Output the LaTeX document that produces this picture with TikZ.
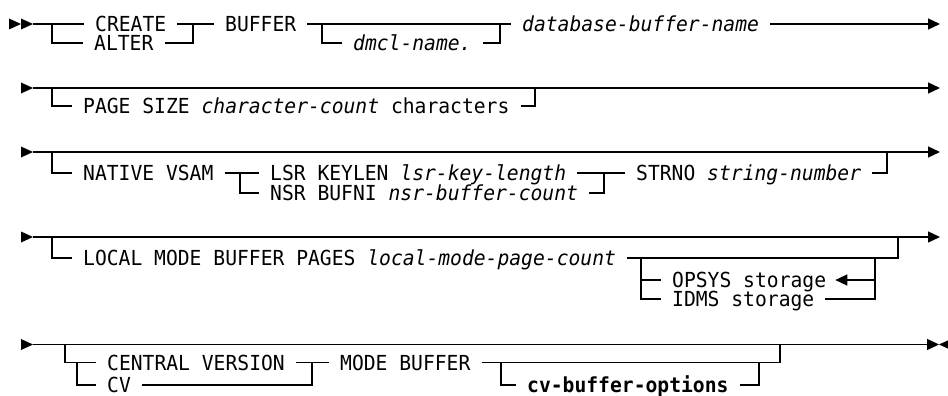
\documentclass[tikz,border=0pt]{standalone}
\usepackage{fontspec}
\newfontfamily\railfont[FakeStretch=0.95]{DejaVu Sans Mono}
\usetikzlibrary{arrows.meta}

\begin{document}
\begin{tikzpicture}[x=1pt,y=-1pt,
  rail/.style={line width=1.4pt},
  endtip/.style={-{Triangle[length=12pt,width=11pt]}},
  kw/.style={anchor=west, inner xsep=11pt, inner ysep=0pt,
    text height=15pt, text depth=0pt,
    font=\railfont\fontsize{20.7}{21}\selectfont},
]
\useasboundingbox (0,0) rectangle (948,396);

% ---------- statement start: CREATE / ALTER BUFFER ----------
\fill (9,18.5) -- (21,24) -- (9,29.5) -- cycle;
\fill (21,18.5) -- (33,24) -- (21,29.5) -- cycle;
\coordinate (r1s) at (33,24);
\coordinate (j1a) at (52,24);
\coordinate (j1b) at (193,24);
\coordinate (j1c) at (322,24);
\coordinate (j1d) at (500,24);
\coordinate (e1)  at (940,24);
\node[kw] (create) at (84,24)  {CREATE};
\node[kw] (alter)  at (83,43)  {ALTER};
\node[kw] (buffer) at (214,24) {BUFFER};
\node[kw] (dmcl)   at (342,43) {\textit{dmcl-name.}};
\node[kw] (dbname) at (511,24) {\textit{database-buffer-name}};
\draw[rail] (r1s) -- (create.west);
\draw[rail] (j1a) |- (alter.west);
\draw[rail] (create.east) -- (buffer.west);
\draw[rail] (alter.east) -| (j1b);
\draw[rail] (buffer.east) -- (dbname.west);
\draw[rail] (j1c) |- (dmcl.west);
\draw[rail] (dmcl.east) -| (j1d);
\draw[rail,endtip] (dbname.east) -- (e1);

% ---------- PAGE SIZE ----------
\fill (21,82.5) -- (33,88) -- (21,93.5) -- cycle;
\coordinate (r2s) at (33,88);
\coordinate (j2a) at (52,88);
\coordinate (j2b) at (535,88);
\coordinate (e2)  at (940,88);
\node[kw] (pagesize) at (72,106) {PAGE SIZE \textit{character-count} characters};
\draw[rail,endtip] (r2s) -- (e2);
\draw[rail] (j2a) |- (pagesize.west);
\draw[rail] (pagesize.east) -| (j2b);

% ---------- NATIVE VSAM ----------
\fill (21,146.5) -- (33,152) -- (21,157.5) -- cycle;
\coordinate (r3s) at (33,152);
\coordinate (j3a) at (52,152);
\coordinate (j3b) at (240,173);
\coordinate (j3c) at (604,173);
\coordinate (j3d) at (887,152);
\coordinate (e3)  at (940,152);
\node[kw] (native) at (72,173)  {NATIVE VSAM};
\node[kw] (lsr)    at (259,173) {LSR KEYLEN \textit{lsr-key-length}};
\node[kw] (nsr)    at (259,193) {NSR BUFNI \textit{nsr-buffer-count}};
\node[kw] (strno)  at (625,173) {STRNO \textit{string-number}};
\draw[rail,endtip] (r3s) -- (e3);
\draw[rail] (j3a) |- (native.west);
\draw[rail] (native.east) -- (lsr.west);
\draw[rail] (j3b) |- (nsr.west);
\draw[rail] (lsr.east) -- (strno.west);
\draw[rail] (nsr.east) -| (j3c);
\draw[rail] (strno.east) -| (j3d);

% ---------- LOCAL MODE BUFFER PAGES ----------
\fill (21,231.5) -- (33,237) -- (21,242.5) -- cycle;
\coordinate (r4s) at (33,237);
\coordinate (j4a) at (52,237);
\coordinate (j4b) at (641,258);
\coordinate (j4c) at (875,258);
\coordinate (j4d) at (898,237);
\coordinate (j4e) at (875,280);
\coordinate (j4f) at (641,280);
\coordinate (e4)  at (940,237);
\node[kw] (local) at (72,258)  {LOCAL MODE BUFFER PAGES \textit{local-mode-page-count}};
\node[kw] (opsys) at (661,280) {OPSYS storage};
\node[kw] (idms)  at (661,299) {IDMS storage};
\draw[rail,endtip] (r4s) -- (e4);
\draw[rail] (j4a) |- (local.west);
\draw[rail] (local.east) -- (j4c) -| (j4d);
\draw[rail] (j4b) |- (idms.west);
\draw[rail] (j4f) -- (opsys.west);
\draw[rail] (idms.east) -| (j4c);
\draw[rail,endtip,shorten >=-2pt] (j4e) -- (opsys.east);

% ---------- CENTRAL VERSION / CV MODE BUFFER ----------
\fill (21,339) -- (33,344.5) -- (21,350) -- cycle;
\fill (951,339) -- (939,344.5) -- (951,350) -- cycle;
\coordinate (r5s) at (33,344.5);
\coordinate (j5a) at (65,344.5);
\coordinate (j5b) at (77,362.5);
\coordinate (j5c) at (312,362.5);
\coordinate (j5d) at (501,362.5);
\coordinate (j5e) at (759,362.5);
\coordinate (j5f) at (780,344.5);
\coordinate (e5)  at (939,344.5);
\node[kw] (central) at (96,362.5)  {CENTRAL VERSION};
\node[kw] (cv)      at (96,385)    {CV};
\node[kw] (modebuf) at (329,362.5) {MODE BUFFER};
\node[kw] (cvopt)   at (516,385)   {\textbf{cv-buffer-options}};
\draw[rail,endtip] (r5s) -- (e5);
\draw[rail] (j5a) |- (central.west);
\draw[rail] (j5b) |- (cv.west);
\draw[rail] (central.east) -- (modebuf.west);
\draw[rail] (cv.east) -| (j5c);
\draw[rail] (modebuf.east) -- (j5e) -| (j5f);
\draw[rail] (j5d) |- (cvopt.west);
\draw[rail] (cvopt.east) -| (j5e);
\end{tikzpicture}
\end{document}
